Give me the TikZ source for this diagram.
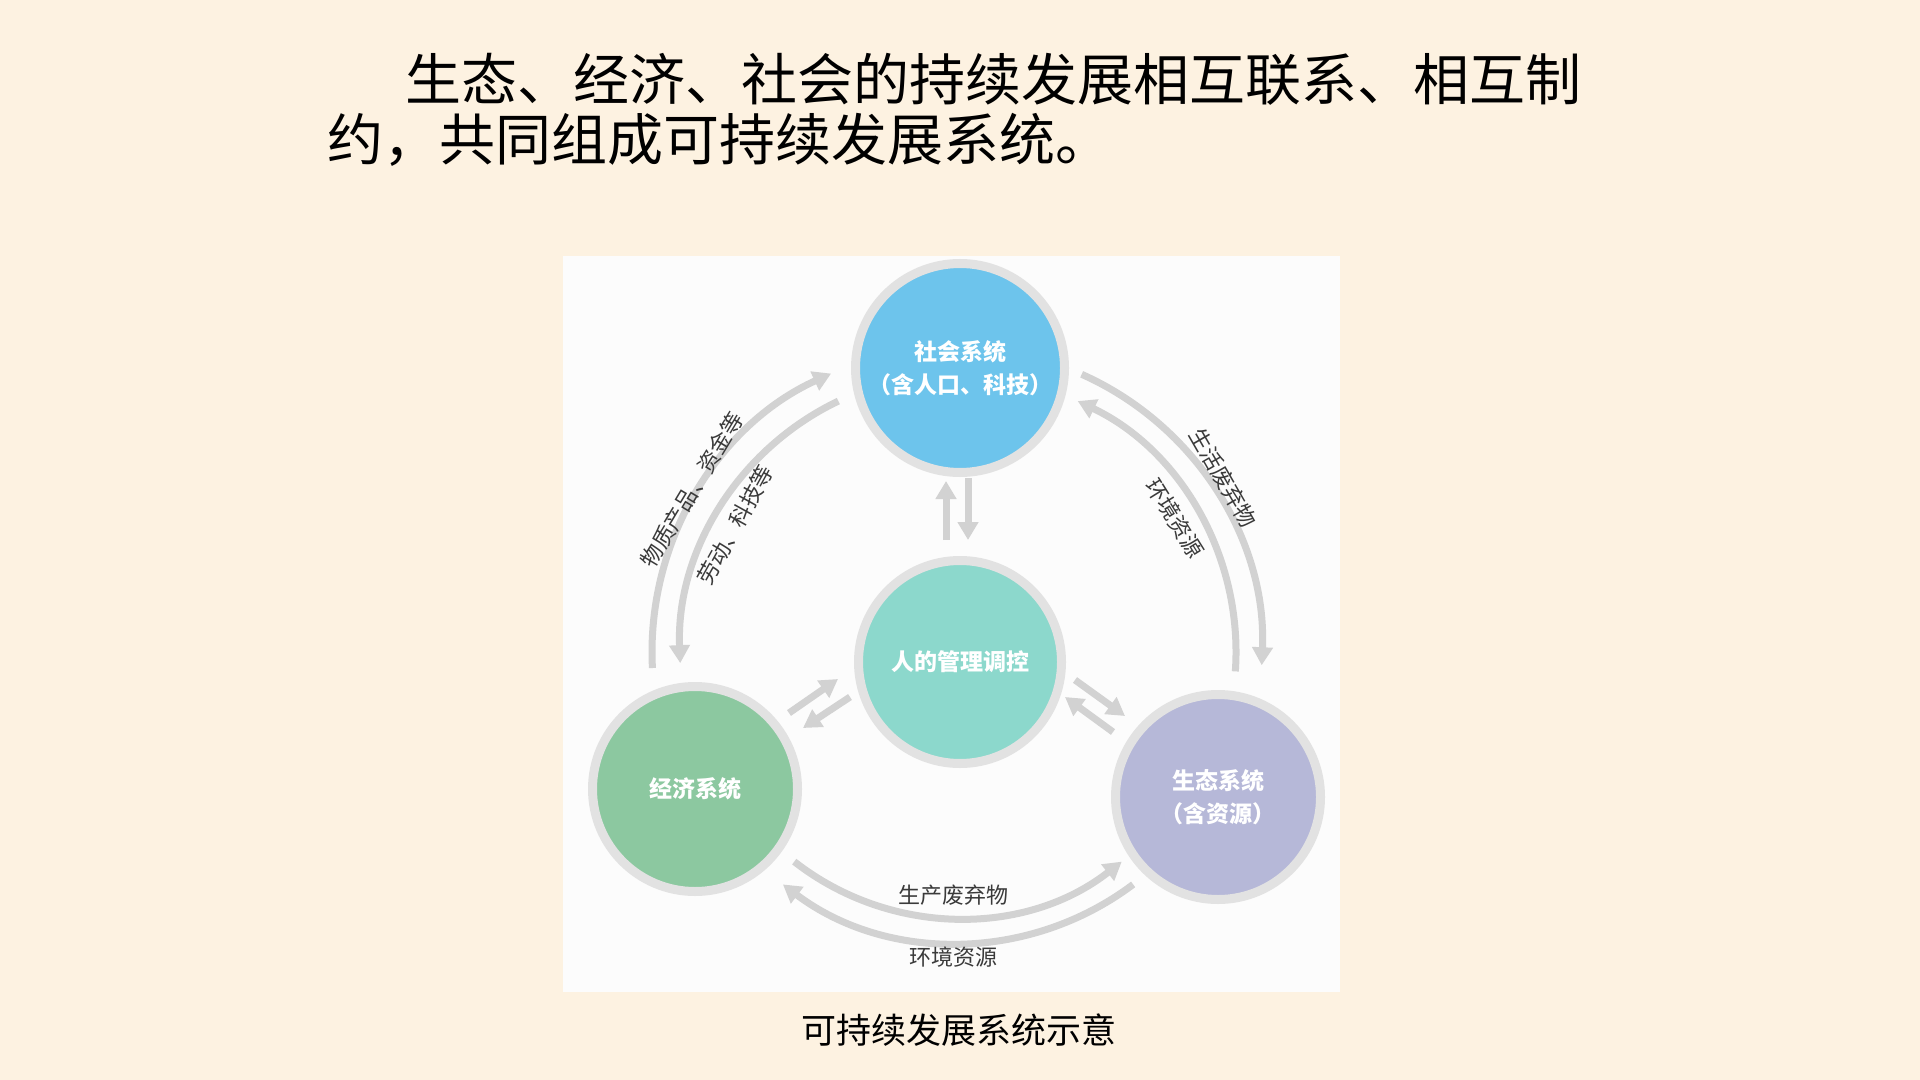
\documentclass[tikz,border=0pt]{standalone}
\usepackage{fontspec}
\setmainfont{Noto Sans CJK SC}
\usetikzlibrary{arrows.meta,calc}
\definecolor{bg}{HTML}{FDF2E1}
\definecolor{panel}{HTML}{FCFCFC}
\definecolor{socblue}{HTML}{6DC4EC}
\definecolor{midteal}{HTML}{8CD8CC}
\definecolor{ecogreen}{HTML}{8CC8A0}
\definecolor{ecolpurple}{HTML}{B6B8D8}
\definecolor{ring}{HTML}{E2E2E2}
\definecolor{arrowgray}{HTML}{D2D2D2}
\definecolor{labelgray}{HTML}{3A3A3A}
\tikzset{
  sys/.style={circle, draw=ring, line width=4.5pt, inner sep=0pt, minimum size=#1,
    font=\bfseries\fontsize{11.5}{16.5}\selectfont, text=white, align=center},
  flow/.style={draw=arrowgray, line width=3.5pt, -{Triangle[length=9pt,width=10pt]}},
  lbl/.style={font=\fontsize{11}{13}\selectfont, text=labelgray, inner sep=0pt},
  ttl/.style={anchor=base west, inner sep=0pt, font=\fontsize{28}{28}\selectfont, text=black}
}
\begin{document}
\begin{tikzpicture}[x=0.5pt,y=-0.5pt]
\useasboundingbox (0,0) rectangle (1920,1080);
\fill[bg] (0,0) rectangle (1920,1080);
\fill[panel] (563,256) rectangle (1340,992);

% title
\node[ttl] (t1) at (405,101) {生态、经济、社会的持续发展相互联系、相互制};
\node[ttl] (t2) at (327,161) {约，共同组成可持续发展系统。};

% systems
\node[sys=104.5pt, fill=socblue] (soc) at (960,368) {社会系统\\（含人口、科技）};
\node[sys=101.5pt, fill=midteal] (mid) at (960,662) {人的管理调控};
\node[sys=102.5pt, fill=ecogreen] (eco) at (695,789) {经济系统};
\node[sys=102.5pt, fill=ecolpurple] (ecol) at (1218,797) {生态系统\\（含资源）};

% big arcs around the centre
\coordinate (c) at (958,652);
\coordinate (lo) at ($(c)+(177:306)$);
\coordinate (li) at ($(c)+(244.5:278)$);
\coordinate (ro) at ($(c)+(-66:304)$);
\coordinate (ri) at ($(c)+(4:278)$);
\coordinate (bu) at ($(c)+(128:266)$);
\coordinate (bl) at ($(c)+(53:291)$);
\draw[flow] (lo) arc[start angle=177, end angle=245.5, radius=306];
\draw[flow] (li) arc[start angle=244.5, end angle=177.7, radius=278];
\draw[flow] (ro) arc[start angle=-66, end angle=2.5, radius=304];
\draw[flow] (ri) arc[start angle=4, end angle=-64.5, radius=278];
\draw[flow] (bu) arc[start angle=128, end angle=52, radius=266];
\draw[flow] (bl) arc[start angle=53, end angle=127, radius=291];

% short arrows
\coordinate (e1) at (946,540); \coordinate (e2) at (946,481);
\coordinate (f1) at (968,478); \coordinate (f2) at (968,540);
\coordinate (a1) at (789,713); \coordinate (a2) at (838,679);
\coordinate (b1) at (850,697); \coordinate (b2) at (803,728);
\coordinate (c1) at (1075,680); \coordinate (c2) at (1125,716);
\coordinate (d1) at (1113,732); \coordinate (d2) at (1065,697);
\draw[flow] (e1) -- (e2);
\draw[flow] (f1) -- (f2);
\draw[flow] (a1) -- (a2);
\draw[flow] (b1) -- (b2);
\draw[flow] (c1) -- (c2);
\draw[flow] (d1) -- (d2);

% labels
\node[lbl, rotate=59] (l1) at (692,490) {物质产品、资金等};
\node[lbl, rotate=61] (l2) at (735,525) {劳动、科技等};
\node[lbl, rotate=-60] (l3) at (1223,478) {生活废弃物};
\node[lbl, rotate=-58] (l4) at (1175,518) {环境资源};
\node[lbl] (l5) at (953,895) {生产废弃物};
\node[lbl] (l6) at (953,957) {环境资源};

% caption
\node[inner sep=0pt, font=\fontsize{17.5}{20}\selectfont, text=black] (cap) at (959,1030) {可持续发展系统示意};
\end{tikzpicture}
\end{document}
